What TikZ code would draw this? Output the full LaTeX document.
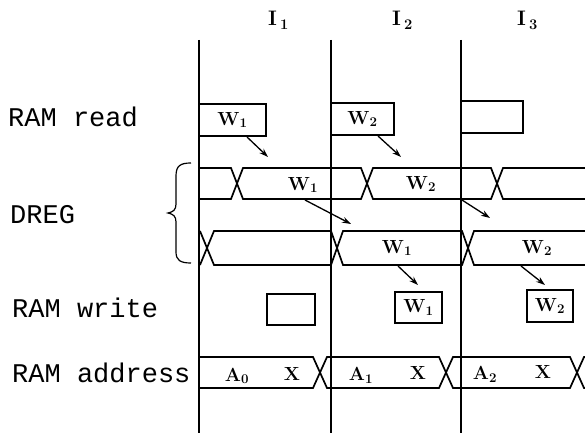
\documentclass[tikz,border=0pt]{standalone}
\usepackage{fontspec}
\setmonofont{Liberation Mono}
\usetikzlibrary{arrows.meta}
\newcommand\Wl[1]{W\textsubscript{#1}}
\newcommand\Al[1]{A\textsubscript{#1}}
\tikzset{
  sig/.style={line width=1.7pt, line join=miter},
  grid/.style={line width=1.4pt},
  box/.style={draw, line width=1.7pt, rectangle, inner sep=0pt, font=\bfseries\fontsize{19}{19}\selectfont},
  lbl/.style={inner sep=0pt, font=\bfseries\fontsize{19}{19}\selectfont},
  ilbl/.style={inner sep=0pt, anchor=base west, font=\bfseries\fontsize{21}{21}\selectfont},
  rowlbl/.style={inner sep=0pt, anchor=base west, font=\ttfamily\fontsize{27}{27}\selectfont},
  arr/.style={line width=1.3pt, -{Stealth[length=9pt,width=6pt]}}
}
\begin{document}
\begin{tikzpicture}[x=1pt,y=-1pt]
\useasboundingbox (0,0) rectangle (585,433);
% column lines
\coordinate (v1t) at (199,40); \coordinate (v1b) at (199,433);
\coordinate (v2t) at (331,40); \coordinate (v2b) at (331,433);
\coordinate (v3t) at (461,40); \coordinate (v3b) at (461,433);
\draw[grid] (v1t) -- (v1b);
\draw[grid] (v2t) -- (v2b);
\draw[grid] (v3t) -- (v3b);
% interval labels
\node[ilbl] (i1) at (268,26) {I\kern3pt\textsubscript{1}};
\node[ilbl] (i2) at (392,26) {I\kern3pt\textsubscript{2}};
\node[ilbl] (i3) at (517,26) {I\kern3pt\textsubscript{3}};
% row labels
\node[rowlbl] (lread) at (8,126) {RAM read};
\node[rowlbl] (ldreg) at (10,223) {DREG};
\node[rowlbl] (lwrite) at (12,317) {RAM write};
\node[rowlbl] (laddr) at (12,382) {RAM address};
% brace
\draw[line width=1.2pt] (191,163) .. controls (180,163) and (176,166) .. (176,176) -- (176,204)
  .. controls (176,210) and (173,212) .. (168,213)
  .. controls (173,214) and (176,216) .. (176,222) -- (176,252)
  .. controls (176,260) and (180,263) .. (191,263);
% RAM read boxes
\node[box, minimum width=67pt, minimum height=32pt] (r1) at (232.5,120) {\Wl{1}};
\node[box, minimum width=63pt, minimum height=32pt] (r2) at (362.5,119) {\Wl{2}};
\node[box, minimum width=62pt, minimum height=32pt] (r3) at (492,117) {};
% DREG row 1
\draw[sig] (199,168) -- (231,168) -- (243,199) -- (361,199) -- (373,168) -- (491,168) -- (503,199) -- (585,199);
\draw[sig] (199,199) -- (231,199) -- (243,168) -- (361,168) -- (373,199) -- (491,199) -- (503,168) -- (585,168);
\node[lbl] (d1a) at (303,185) {\Wl{1}};
\node[lbl] (d1b) at (421,184) {\Wl{2}};
% DREG row 2
\draw[sig] (200,231) -- (214,265) -- (331,265) -- (343,231) -- (462,231) -- (474,265) -- (585,265);
\draw[sig] (200,265) -- (214,231) -- (331,231) -- (343,265) -- (462,265) -- (474,231) -- (585,231);
\node[lbl] (d2a) at (397,248) {\Wl{1}};
\node[lbl] (d2b) at (537,248) {\Wl{2}};
% RAM write boxes
\node[box, minimum width=48pt, minimum height=31pt] (w0) at (291,309.5) {};
\node[box, minimum width=47pt, minimum height=31pt] (w1) at (418.5,307.5) {\Wl{1}};
\node[box, minimum width=46pt, minimum height=32pt] (w2) at (550,306) {\Wl{2}};
% RAM address row
\draw[sig] (199,357) -- (313,357) -- (327,388) -- (439,388) -- (453,357) -- (570,357) -- (584,388) -- (585,388);
\draw[sig] (199,388) -- (313,388) -- (327,357) -- (439,357) -- (453,388) -- (570,388) -- (584,357) -- (585,357);
\node[lbl] (a0) at (237,376) {\Al{0}};
\node[lbl] (x0) at (292,374) {X};
\node[lbl] (a1) at (361,375) {\Al{1}};
\node[lbl] (x1) at (418,373) {X};
\node[lbl] (a2) at (485,374) {\Al{2}};
\node[lbl] (x2) at (543,372) {X};
% arrows
\coordinate (s1) at (247,137); \coordinate (e1) at (268,157);
\coordinate (s2) at (378,136); \coordinate (e2) at (401,157);
\coordinate (s3) at (305,200); \coordinate (e3) at (351,224);
\coordinate (s4) at (462,200); \coordinate (e4) at (490,218);
\coordinate (s5) at (398,266); \coordinate (e5) at (418,285);
\coordinate (s6) at (521,266); \coordinate (e6) at (545,285);
\draw[arr] (s1) -- (e1);
\draw[arr] (s2) -- (e2);
\draw[arr] (s3) -- (e3);
\draw[arr] (s4) -- (e4);
\draw[arr] (s5) -- (e5);
\draw[arr] (s6) -- (e6);
\end{tikzpicture}
\end{document}
